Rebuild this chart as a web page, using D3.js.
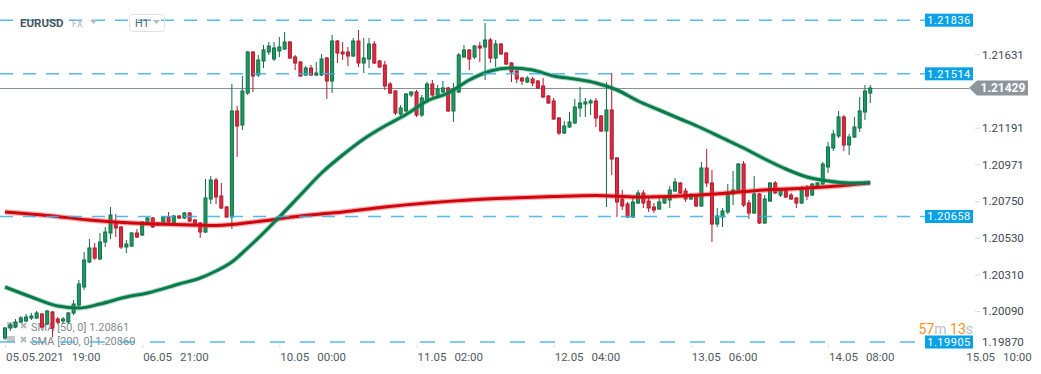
<!DOCTYPE html>
<html>
<head>
<meta charset="utf-8">
<script src="https://d3js.org/d3.v7.min.js"></script>
<style>
  html, body { margin: 0; padding: 0; background: #fff; }
  svg { display: block; font-family: Roboto, "Noto Sans", sans-serif; }
</style>
</head>
<body>
<svg id="chart" width="1041" height="374"></svg>
<script>
// EURUSD H1 candles, 05.05 19:00 .. 14.05 16:00
const open = [
  1.19929, 1.19989, 1.19995, 1.20025, 1.20031, 1.20049, 1.20049, 1.20073, 1.20013, 1.20085,
  1.20043, 1.20031, 1.20025, 1.20079, 1.20127, 1.20235, 1.20385, 1.20469, 1.20403, 1.20505,
  1.20559, 1.20625, 1.20595, 1.20475, 1.20481, 1.20559, 1.20547, 1.20619, 1.20649, 1.20619,
  1.20613, 1.20655, 1.20619, 1.20661, 1.20649, 1.20679, 1.20637, 1.20619, 1.20565, 1.20763,
  1.20877, 1.20781, 1.20715, 1.20655, 1.21291, 1.21207, 1.21399, 1.21645, 1.21507, 1.21591,
  1.21645, 1.21603, 1.21651, 1.21663, 1.21705, 1.21615, 1.21585, 1.21507, 1.21549, 1.21507,
  1.21507, 1.21609, 1.21471, 1.21711, 1.21645, 1.21645, 1.21621, 1.21711, 1.21579, 1.21603,
  1.21693, 1.21591, 1.21567, 1.21453, 1.21411, 1.21273, 1.21291, 1.21387, 1.21405, 1.21267,
  1.21357, 1.21453, 1.21387, 1.21405, 1.21429, 1.21291, 1.21405, 1.21615, 1.21657, 1.21615,
  1.21681, 1.21675, 1.21717, 1.21609, 1.21693, 1.21639, 1.21579, 1.21531, 1.21489, 1.21465,
  1.21483, 1.21471, 1.21441, 1.21381, 1.21351, 1.21249, 1.21159, 1.21195, 1.21219, 1.21309,
  1.21333, 1.21339, 1.21351, 1.21261, 1.21171, 1.21297, 1.21009, 1.20763, 1.20733, 1.20655,
  1.20739, 1.20799, 1.20751, 1.20715, 1.20703, 1.20739, 1.20757, 1.20811, 1.20859, 1.20811,
  1.20763, 1.20781, 1.20721, 1.20949, 1.20859, 1.20613, 1.20655, 1.20685, 1.20793, 1.20817,
  1.20973, 1.20739, 1.20679, 1.20793, 1.20619, 1.20751, 1.20859, 1.20787, 1.20817, 1.20787,
  1.20769, 1.20739, 1.20829, 1.20787, 1.20841, 1.20853, 1.20955, 1.21069, 1.21141, 1.21255,
  1.21087, 1.21135, 1.21189, 1.21285, 1.21399
];
const high = [
  1.19995, 1.20019, 1.20043, 1.20061, 1.20073, 1.20079, 1.20091, 1.20079, 1.20097, 1.20091,
  1.20055, 1.20055, 1.20085, 1.20157, 1.20277, 1.20445, 1.20523, 1.20499, 1.20559, 1.20595,
  1.20715, 1.20673, 1.20601, 1.20517, 1.20565, 1.20583, 1.20631, 1.20655, 1.20655, 1.20625,
  1.20661, 1.20685, 1.20667, 1.20667, 1.20685, 1.20685, 1.20643, 1.20625, 1.20883, 1.20901,
  1.20889, 1.20859, 1.20721, 1.21453, 1.21321, 1.21501, 1.21651, 1.21651, 1.21627, 1.21687,
  1.21705, 1.21705, 1.21735, 1.21765, 1.21711, 1.21627, 1.21591, 1.21561, 1.21567, 1.21585,
  1.21633, 1.21615, 1.21747, 1.21717, 1.21705, 1.21675, 1.21729, 1.21777, 1.21729, 1.21729,
  1.21711, 1.21597, 1.21591, 1.21465, 1.21417, 1.21327, 1.21399, 1.21411, 1.21417, 1.21387,
  1.21465, 1.21477, 1.21447, 1.21471, 1.21435, 1.21459, 1.21639, 1.21687, 1.21663, 1.21687,
  1.21705, 1.21819, 1.21729, 1.21717, 1.21699, 1.21645, 1.21585, 1.21549, 1.21495, 1.21501,
  1.21495, 1.21477, 1.21489, 1.21387, 1.21369, 1.21255, 1.21231, 1.21285, 1.21363, 1.21435,
  1.21369, 1.21363, 1.21369, 1.21267, 1.21465, 1.21519, 1.21015, 1.20817, 1.20745, 1.20775,
  1.20817, 1.20817, 1.20775, 1.20739, 1.20775, 1.20787, 1.20841, 1.20889, 1.20865, 1.20829,
  1.20799, 1.20787, 1.20985, 1.21063, 1.20937, 1.20709, 1.20709, 1.20853, 1.20931, 1.20979,
  1.20991, 1.20757, 1.20901, 1.20799, 1.20787, 1.20865, 1.20871, 1.20829, 1.20823, 1.20799,
  1.20775, 1.20841, 1.20847, 1.20859, 1.20865, 1.20985, 1.21105, 1.21177, 1.21291, 1.21267,
  1.21153, 1.21255, 1.21375, 1.21447, 1.21447
];
const low = [
  1.19917, 1.19971, 1.19989, 1.20019, 1.20025, 1.20037, 1.20043, 1.19989, 1.20007, 1.19935,
  1.20013, 1.20019, 1.20013, 1.20067, 1.20115, 1.20217, 1.20379, 1.20397, 1.20397, 1.20475,
  1.20523, 1.20535, 1.20463, 1.20439, 1.20475, 1.20529, 1.20541, 1.20607, 1.20589, 1.20601,
  1.20607, 1.20613, 1.20613, 1.20643, 1.20643, 1.20625, 1.20601, 1.20529, 1.20559, 1.20733,
  1.20733, 1.20703, 1.20649, 1.20583, 1.21015, 1.21177, 1.21387, 1.21405, 1.21495, 1.21549,
  1.21627, 1.21591, 1.21615, 1.21657, 1.21603, 1.21537, 1.21495, 1.21501, 1.21501, 1.21501,
  1.21501, 1.21363, 1.21399, 1.21579, 1.21597, 1.21561, 1.21615, 1.21555, 1.21519, 1.21549,
  1.21573, 1.21549, 1.21417, 1.21393, 1.21267, 1.21255, 1.21285, 1.21375, 1.21255, 1.21255,
  1.21339, 1.21375, 1.21375, 1.21399, 1.21285, 1.21225, 1.21399, 1.21609, 1.21537, 1.21603,
  1.21585, 1.21477, 1.21579, 1.21555, 1.21627, 1.21567, 1.21465, 1.21459, 1.21447, 1.21459,
  1.21441, 1.21423, 1.21369, 1.21333, 1.21237, 1.21147, 1.21153, 1.21189, 1.21213, 1.21255,
  1.21255, 1.21267, 1.21195, 1.21165, 1.20715, 1.20907, 1.20655, 1.20697, 1.20649, 1.20649,
  1.20733, 1.20709, 1.20685, 1.20679, 1.20697, 1.20733, 1.20709, 1.20805, 1.20793, 1.20745,
  1.20757, 1.20715, 1.20715, 1.20835, 1.20505, 1.20595, 1.20595, 1.20673, 1.20727, 1.20811,
  1.20715, 1.20643, 1.20673, 1.20613, 1.20613, 1.20745, 1.20793, 1.20775, 1.20769, 1.20757,
  1.20709, 1.20733, 1.20757, 1.20781, 1.20835, 1.20847, 1.20919, 1.21051, 1.21129, 1.21051,
  1.21027, 1.21129, 1.21165, 1.21237, 1.21339
];
const close = [
  1.19989, 1.20007, 1.20025, 1.20049, 1.20055, 1.20061, 1.20079, 1.19995, 1.20091, 1.19989,
  1.20025, 1.20043, 1.20079, 1.20133, 1.20253, 1.20397, 1.20469, 1.20409, 1.20505, 1.20565,
  1.20667, 1.20589, 1.20475, 1.20493, 1.20559, 1.20535, 1.20625, 1.20649, 1.20595, 1.20607,
  1.20655, 1.20625, 1.20661, 1.20649, 1.20679, 1.20631, 1.20607, 1.20565, 1.20769, 1.20877,
  1.20775, 1.20709, 1.20655, 1.21291, 1.21201, 1.21411, 1.21645, 1.21501, 1.21597, 1.21657,
  1.21681, 1.21669, 1.21675, 1.21705, 1.21609, 1.21579, 1.21501, 1.21549, 1.21507, 1.21519,
  1.21603, 1.21471, 1.21711, 1.21639, 1.21633, 1.21621, 1.21711, 1.21579, 1.21609, 1.21693,
  1.21579, 1.21555, 1.21441, 1.21399, 1.21279, 1.21309, 1.21393, 1.21405, 1.21267, 1.21369,
  1.21453, 1.21387, 1.21423, 1.21429, 1.21291, 1.21423, 1.21627, 1.21657, 1.21603, 1.21681,
  1.21669, 1.21717, 1.21609, 1.21693, 1.21633, 1.21573, 1.21525, 1.21483, 1.21471, 1.21489,
  1.21459, 1.21429, 1.21375, 1.21339, 1.21243, 1.21159, 1.21201, 1.21225, 1.21315, 1.21339,
  1.21345, 1.21351, 1.21249, 1.21171, 1.21297, 1.21003, 1.20745, 1.20721, 1.20655, 1.20745,
  1.20799, 1.20739, 1.20709, 1.20697, 1.20745, 1.20769, 1.20817, 1.20865, 1.20799, 1.20763,
  1.20781, 1.20721, 1.20949, 1.20859, 1.20613, 1.20661, 1.20691, 1.20793, 1.20817, 1.20973,
  1.20727, 1.20679, 1.20793, 1.20619, 1.20763, 1.20859, 1.20799, 1.20817, 1.20775, 1.20763,
  1.20739, 1.20829, 1.20781, 1.20853, 1.20859, 1.20973, 1.21075, 1.21153, 1.21255, 1.21087,
  1.21135, 1.21195, 1.21291, 1.21411, 1.21429
];

// moving averages (candle index, value)
const sma50Idx = [0, 5, 10, 14, 18, 23, 27, 33, 37, 40, 43, 46, 49, 52, 56, 60, 64, 68, 72, 76,
  80, 84, 88, 92, 96, 100, 104, 108, 112, 116, 120, 124, 128, 132, 136, 140, 144, 148, 152, 156, 160, 164];
const sma50Val = [1.20235, 1.20175, 1.20121, 1.20109, 1.20133, 1.20175, 1.20199, 1.20253, 1.20289, 1.20331,
  1.20385, 1.20469, 1.20559, 1.20655, 1.20787, 1.20919, 1.21027, 1.21123, 1.21201, 1.21270,
  1.21351, 1.21399, 1.21477, 1.21531, 1.21549, 1.21537, 1.21501, 1.21483, 1.21459, 1.21417,
  1.21351, 1.21297, 1.21243, 1.21189, 1.21129, 1.21069, 1.21003, 1.20943, 1.20895, 1.20871, 1.20859, 1.20861];
const sma200Idx = [0, 8, 16, 24, 32, 40, 48, 56, 64, 72, 80, 88, 96, 104, 112, 120, 128, 136, 144, 152, 160, 164];
const sma200Val = [1.20685, 1.20664, 1.20637, 1.20619, 1.20610, 1.20604, 1.20628, 1.20661, 1.20685, 1.20715,
  1.20739, 1.20757, 1.20769, 1.20778, 1.20784, 1.20775, 1.20781, 1.20796, 1.20817, 1.20829, 1.20847, 1.20860];

const xTickIdx = [0, 26, 52, 78, 104, 130, 156, 182];
const xTickDates = ["05.05.2021", "06.05", "10.05", "11.05", "12.05", "13.05", "14.05", "15.05"];
const xTickTimes = ["19:00", "21:00", "00:00", "02:00", "04:00", "06:00", "08:00", "10:00"];
const yTicks = [1.19870, 1.20090, 1.20310, 1.20530, 1.20750, 1.20971, 1.21191, 1.21631];
const levels = [1.21836, 1.21514, 1.20658, 1.19905];
const lastPrice = 1.21429;
const legendRows = ["SMA [50, 0] 1.20861", "SMA [200, 0] 1.20860"];

const svg = d3.select("#chart");
const plotRight = 975, plotBottom = 345;

const x = d3.scaleLinear().domain([0, 182]).range([5, 965.2]);
const y = d3.scaleLinear().domain([1.19887, 1.21957]).range([plotBottom, 0]);

// y axis on the right
const yAxis = svg.append("g")
    .attr("transform", "translate(" + plotRight + ",0)")
    .call(d3.axisRight(y).tickValues(yTicks).tickSize(5).tickPadding(2).tickFormat(d3.format(".5f")));
yAxis.select(".domain").remove();
yAxis.selectAll(".tick line").attr("stroke", "#d5d9dd");
yAxis.selectAll(".tick text")
    .attr("fill", "#3e4852")
    .attr("font-size", 11.5)
    .attr("font-family", "Roboto, sans-serif");
// lowest label is pushed up inside the panel
yAxis.selectAll(".tick").filter(d => y(d) > 342)
    .attr("transform", "translate(0,342)")
    .select("line").remove();

// x axis
const xAxis = svg.append("g")
    .attr("transform", "translate(0," + plotBottom + ")")
    .call(d3.axisBottom(x).tickValues(xTickIdx).tickSize(3).tickFormat(""));
xAxis.select(".domain").remove();
xAxis.selectAll(".tick line").attr("stroke", "#dde0e3");
const xLabels = svg.append("g")
    .attr("font-size", 11.5)
    .attr("fill", "#505a63");
xTickIdx.forEach((idx, k) => {
    const t = xLabels.append("text")
        .attr("x", x(idx) + 1)
        .attr("y", 361);
    t.append("tspan").text(xTickDates[k]);
    t.append("tspan").attr("dx", 8).text(xTickTimes[k]);
});

// horizontal levels
const levelG = svg.append("g");
levels.forEach((v, k) => {
    levelG.append("line")
        .attr("x1", 0).attr("x2", 925)
        .attr("y1", y(v)).attr("y2", y(v))
        .attr("stroke", "#35b0ea")
        .attr("stroke-opacity", 0.85)
        .attr("stroke-width", 1.5)
        .attr("stroke-dasharray", k === 3 ? "15,15" : "13,10");
});

// last price line
svg.append("line")
    .attr("x1", 0).attr("x2", 969)
    .attr("y1", Math.round(y(lastPrice)) + 0.5).attr("y2", Math.round(y(lastPrice)) + 0.5)
    .attr("stroke", "#87919a")
    .attr("stroke-width", 1);

// legend (candles are drawn over it)
const legend = svg.append("g");
legendRows.forEach((txt, k) => {
    const by = 331 + k * 14;
    legend.append("rect")
        .attr("x", 7).attr("y", by - 9).attr("width", 8).attr("height", 6)
        .attr("fill", "#c4c7ca");
    legend.append("path")
        .attr("d", "M21," + (by - 8) + "L26," + (by - 3) + "M26," + (by - 8) + "L21," + (by - 3))
        .attr("stroke", "#b4b8bc").attr("stroke-width", 2);
    legend.append("text")
        .attr("x", 31).attr("y", by)
        .attr("font-size", 11)
        .attr("fill", "#85898d")
        .text(txt);
});

// candles
const candles = d3.range(open.length).map(i => ({ i: i, o: open[i], h: high[i], l: low[i], c: close[i] }));
const up = d => d.c >= d.o;
const cg = svg.append("g").selectAll("g").data(candles).enter().append("g");
cg.append("line")
    .attr("x1", d => x(d.i)).attr("x2", d => x(d.i))
    .attr("y1", d => y(d.h)).attr("y2", d => y(d.l))
    .attr("stroke", d => up(d) ? "#0e6e45" : "#ad1a2d")
    .attr("stroke-width", 1);
cg.append("rect")
    .attr("x", d => x(d.i) - 1.5)
    .attr("width", 3)
    .attr("y", d => y(Math.max(d.o, d.c)))
    .attr("height", d => Math.max(1, y(Math.min(d.o, d.c)) - y(Math.max(d.o, d.c))))
    .attr("fill", d => up(d) ? "#1f9a63" : "#df2a41")
    .attr("stroke", d => up(d) ? "#0e6e45" : "#ad1a2d")
    .attr("stroke-width", 1);

// moving averages
const line = d3.line().x(d => x(d[0])).y(d => y(d[1])).curve(d3.curveMonotoneX);
const sma200 = sma200Idx.map((v, k) => [v, sma200Val[k]]);
const sma50 = sma50Idx.map((v, k) => [v, sma50Val[k]]);
svg.append("path").attr("d", line(sma200)).attr("fill", "none")
    .attr("stroke", "#e23b3b").attr("stroke-opacity", 0.4).attr("stroke-width", 5.5);
svg.append("path").attr("d", line(sma200)).attr("fill", "none")
    .attr("stroke", "#d2050f").attr("stroke-width", 3);
svg.append("path").attr("d", line(sma50)).attr("fill", "none")
    .attr("stroke", "#2b9a68").attr("stroke-opacity", 0.4).attr("stroke-width", 5);
svg.append("path").attr("d", line(sma50)).attr("fill", "none")
    .attr("stroke", "#0b7a4b").attr("stroke-width", 3);

// level labels
levels.forEach(v => {
    levelG.append("rect")
        .attr("x", 925).attr("y", y(v) - 6.5)
        .attr("width", 48).attr("height", 13)
        .attr("fill", "#0aa2e6");
    levelG.append("text")
        .attr("x", 949).attr("y", y(v))
        .attr("dy", "0.36em")
        .attr("text-anchor", "middle")
        .attr("font-size", 11)
        .attr("letter-spacing", 0.5)
        .attr("fill", "#fff")
        .text(d3.format(".5f")(v));
});
levelG.raise();

// last price tag
const ly = y(lastPrice);
svg.append("path")
    .attr("d", "M969," + ly + "L977," + (ly - 7.5) + "L1028," + (ly - 7.5) + "L1028," + (ly + 7.5) + "L977," + (ly + 7.5) + "Z")
    .attr("fill", "#8d969c");
svg.append("text")
    .attr("x", 1003).attr("y", ly)
    .attr("dy", "0.36em")
    .attr("text-anchor", "middle")
    .attr("font-size", 12)
    .attr("font-weight", "bold")
    .attr("fill", "#fff")
    .text(d3.format(".5f")(lastPrice));

// countdown
const cd = svg.append("text")
    .attr("x", 973).attr("y", 334)
    .attr("text-anchor", "end")
    .attr("font-size", 14);
[["57", "#f7931e"], ["m ", "#b9c0c6"], ["13", "#f7931e"], ["s", "#b9c0c6"]].forEach(p => {
    cd.append("tspan").attr("fill", p[1]).text(p[0]);
});

// header
const head = svg.append("g");
head.append("text").attr("x", 20).attr("y", 27)
    .attr("font-size", 11.5).attr("font-weight", "bold").attr("fill", "#4a545e")
    .text("EURUSD");
head.append("text").attr("x", 72).attr("y", 27)
    .attr("font-size", 9).attr("fill", "#a9b2ba")
    .text("FX");
head.append("path").attr("d", "M90,20L97,20L93.5,24Z").attr("fill", "#b3bac0");
head.append("rect").attr("x", 129.5).attr("y", 14.5).attr("width", 35).attr("height", 17).attr("rx", 3)
    .attr("fill", "none").attr("stroke", "#dfe3e6");
head.append("text").attr("x", 135).attr("y", 27)
    .attr("font-size", 11).attr("fill", "#59636c")
    .text("H1");
head.append("path").attr("d", "M153,20L160,20L156.5,24Z").attr("fill", "#b3bac0");
</script>
</body>
</html>
